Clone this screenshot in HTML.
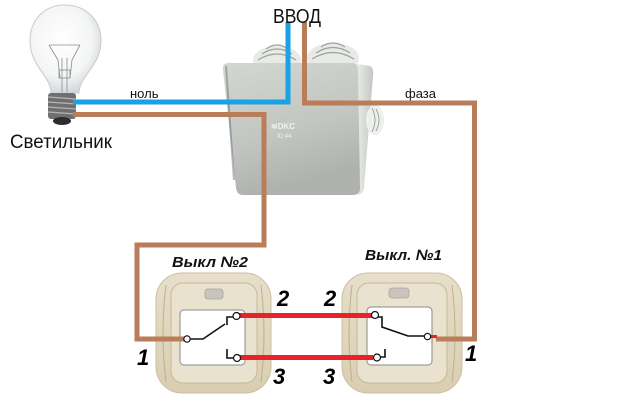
<!DOCTYPE html>
<html><head><meta charset="utf-8"><style>
html,body{margin:0;padding:0;background:#fff;}
svg{display:block;}
</style></head><body>
<svg width="630" height="404" viewBox="0 0 630 404" xmlns="http://www.w3.org/2000/svg" font-family="Liberation Sans, sans-serif">
<defs>
<radialGradient id="glass" cx="0.45" cy="0.4" r="0.6">
<stop offset="0" stop-color="#ffffff"/><stop offset="0.7" stop-color="#f4f5f6"/><stop offset="1" stop-color="#d6d8da"/>
</radialGradient>
<linearGradient id="box" x1="0" y1="0" x2="0.3" y2="1">
<stop offset="0" stop-color="#d3d7d1"/><stop offset="0.6" stop-color="#c3c6c0"/><stop offset="1" stop-color="#afb1ac"/>
</linearGradient>
<linearGradient id="side" x1="0" y1="0" x2="1" y2="0">
<stop offset="0" stop-color="#eceee9"/><stop offset="1" stop-color="#c4c6c1"/>
</linearGradient>
<linearGradient id="plate" x1="0" y1="0" x2="0" y2="1">
<stop offset="0" stop-color="#e7dfca"/><stop offset="1" stop-color="#d9ceb2"/>
</linearGradient>
</defs>

<!-- Bulb -->
<path d="M51,93 C51,76 30,66 30,41 C30,18 46,5 65,5 C84,5 101,18 101,41 C101,66 79,76 79,93 Z" fill="url(#glass)" stroke="#c9cbcd" stroke-width="1"/>
<g stroke="#8a8c8e" stroke-width="0.8" fill="none">
<path d="M49,45 L80,45 M49,45 L58,60 M80,45 L72,60 M58,60 L60,78 M72,60 L70,78"/>
<path d="M62,58 L62,92 M67,58 L67,92"/>
<rect x="59" y="70" width="11" height="8"/>
</g>
<rect x="48" y="93" width="28" height="26" rx="3" fill="#6f6f6f"/>
<g stroke="#b5b5b5" stroke-width="1.3">
<line x1="48" y1="97" x2="76" y2="99"/><line x1="48" y1="102" x2="76" y2="104"/><line x1="48" y1="107" x2="76" y2="109"/><line x1="48" y1="112" x2="76" y2="114"/>
</g>
<ellipse cx="62" cy="121" rx="9" ry="4" fill="#2c2c2c"/>
<text x="10" y="148" font-size="19" fill="#111" textLength="102" lengthAdjust="spacingAndGlyphs">Светильник</text>

<!-- Junction box -->
<ellipse cx="277" cy="60" rx="24" ry="14" fill="#e8eae6"/>
<g stroke="#9ea09c" stroke-width="1.2" fill="none">
<path d="M258,60 Q277,48 296,60 M262,54 Q277,44 292,54 M266,49 Q277,41 288,49"/>
</g>
<ellipse cx="333" cy="58" rx="26" ry="15" fill="#e8eae6"/>
<g stroke="#9ea09c" stroke-width="1.2" fill="none">
<path d="M312,59 Q333,46 354,59 M316,53 Q333,42 350,53 M321,47 Q333,39 345,47"/>
</g>
<path d="M356,64 L370,66 Q374,68 373,76 L364,188 Q363,194 358,195 Z" fill="url(#side)"/>
<path d="M228,63 L352,63 Q358,63 358,70 L360,188 Q360,195 353,195 L243,195 Q237,195 236,188 L223,70 Q222,63 228,63 Z" fill="url(#box)"/>
<path d="M226,66 L234,180" stroke="#6b7280" stroke-width="2" opacity="0.5"/>
<ellipse cx="375" cy="120" rx="9" ry="15" fill="#eef0ec"/>
<g stroke="#a2a4a0" stroke-width="1" fill="none"><path d="M372,108 Q378,120 372,132 M376,109 Q382,120 376,131"/></g>
<text x="271" y="129" font-size="8" fill="#f2f2f0" font-weight="bold">≋DKC</text>
<text x="277" y="138" font-size="6" fill="#f2f2f0">ID 44</text>

<!-- Switch plate left -->
<rect x="156" y="273" width="115" height="120" rx="26" fill="url(#plate)" stroke="#cbbf9f" stroke-width="1"/>
<path d="M166,285 Q160,333 166,382 M261,285 Q267,333 261,382" stroke="#bfb08c" stroke-width="1" fill="none"/>
<rect x="171" y="283" width="86" height="100" rx="12" fill="#e9e2cf" stroke="#c6b994" stroke-width="1"/>
<rect x="205" y="289" width="18" height="10" rx="3" fill="#c9c5bc" stroke="#aaa59a" stroke-width="0.8"/>
<rect x="180" y="310" width="65" height="55" rx="4" fill="#fff" stroke="#8a8a8a" stroke-width="1"/>

<!-- Switch plate right -->
<rect x="342" y="273" width="120" height="120" rx="26" fill="url(#plate)" stroke="#cbbf9f" stroke-width="1"/>
<path d="M352,285 Q346,333 352,382 M452,285 Q458,333 452,382" stroke="#bfb08c" stroke-width="1" fill="none"/>
<rect x="357" y="283" width="90" height="100" rx="12" fill="#e9e2cf" stroke="#c6b994" stroke-width="1"/>
<rect x="389" y="288" width="20" height="10" rx="3" fill="#c9c5bc" stroke="#aaa59a" stroke-width="0.8"/>
<rect x="367" y="307" width="65" height="58" rx="4" fill="#fff" stroke="#8a8a8a" stroke-width="1"/>

<!-- Wires -->
<g fill="none" stroke-linejoin="miter" stroke-linecap="butt">
<path d="M73,102 H288 V22" stroke="#1aa2e6" stroke-width="5"/>
<path d="M73,114.5 H264 V245 H137 V339 H185" stroke="#b97d5a" stroke-width="5"/>
<path d="M304.5,22 V103 H474.5 V339 H436" stroke="#b97d5a" stroke-width="5"/>
<path d="M239,315.5 H372" stroke="#e8212b" stroke-width="5"/>
<path d="M240,357.5 H373" stroke="#e8212b" stroke-width="5"/>
<path d="M430,336.5 H437" stroke="#e8212b" stroke-width="3"/>
</g>

<!-- Switch contacts left -->
<g stroke="#111" stroke-width="1.6" fill="none">
<path d="M190,339 H203 L225,324 M227,325 V317 H233"/>
<path d="M227,349 V358 H234"/>
</g>
<g fill="#fff" stroke="#111" stroke-width="1.2">
<circle cx="187" cy="339" r="3.2"/><circle cx="236.5" cy="316" r="3.5"/><circle cx="237" cy="358" r="3.5"/>
</g>
<!-- Switch contacts right -->
<g stroke="#111" stroke-width="1.6" fill="none">
<path d="M378,317 H382 V327 L408,336 H424"/>
<path d="M385,349 V357 H380"/>
</g>
<g fill="#fff" stroke="#111" stroke-width="1.2">
<circle cx="375" cy="315" r="3.5"/><circle cx="377" cy="357.5" r="3.5"/><circle cx="427.5" cy="336.5" r="3.2"/>
</g>

<!-- Labels -->
<text x="273" y="23" font-size="20" fill="#111" textLength="48" lengthAdjust="spacingAndGlyphs">ВВОД</text>
<text x="130" y="98" font-size="13" fill="#111">ноль</text>
<text x="405" y="98" font-size="13" fill="#111">фаза</text>
<text x="172" y="267" font-size="15" font-weight="bold" font-style="italic" fill="#111" textLength="76" lengthAdjust="spacingAndGlyphs">Выкл №2</text>
<text x="365" y="260" font-size="15" font-weight="bold" font-style="italic" fill="#111" textLength="77" lengthAdjust="spacingAndGlyphs">Выкл. №1</text>
<g font-size="22" font-weight="bold" font-style="italic" fill="#000">
<text x="277" y="306">2</text>
<text x="324" y="306">2</text>
<text x="273" y="384">3</text>
<text x="323" y="384">3</text>
<text x="137" y="365">1</text>
<text x="465" y="361">1</text>
</g>
</svg>
</body></html>
